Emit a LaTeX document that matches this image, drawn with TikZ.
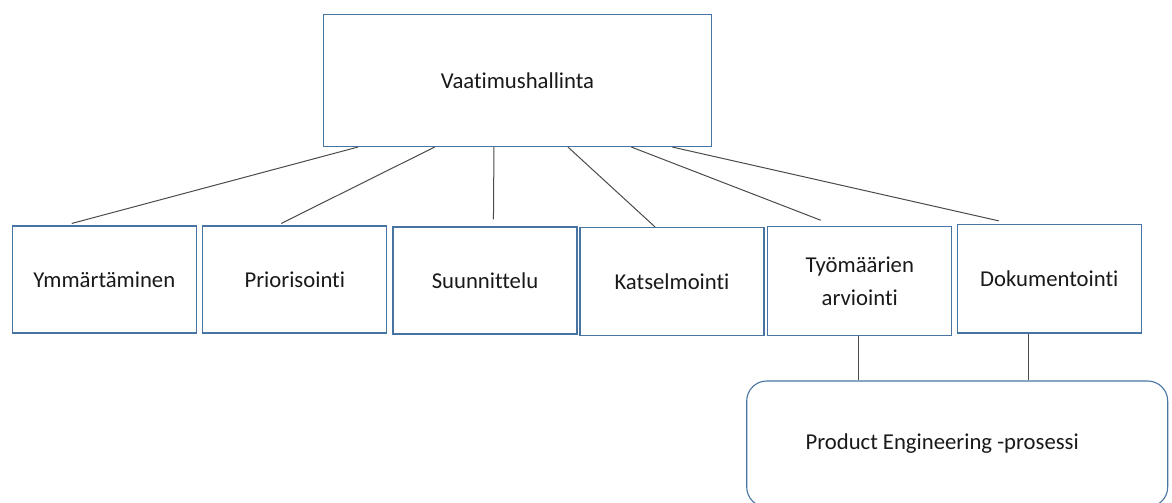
\documentclass[tikz,border=0pt]{standalone}
\usepackage{fontspec}
\setmainfont[Ligatures={NoCommon}]{Carlito}
\definecolor{boxblue}{RGB}{72,116,164}
\definecolor{linegray}{RGB}{75,75,75}
\definecolor{txt}{RGB}{25,25,25}
\begin{document}
\begin{tikzpicture}[x=1pt,y=-1pt,
  font=\fontsize{22.7}{33}\selectfont,
  stepbox/.style={draw=boxblue, line width=1.1pt, fill=white, text=txt, inner sep=0pt,
    minimum width=184pt, minimum height=108pt, align=center},
  topbox/.style={stepbox, minimum width=388pt, minimum height=132pt},
  pebox/.style={draw=boxblue, line width=1.1pt, rounded corners=20pt, text=txt, inner sep=0pt,
    minimum width=421pt, minimum height=126pt},
  conn/.style={draw=linegray, line width=1pt}]
\useasboundingbox[fill=white] (0,0) rectangle (1172,503);

\node[topbox] (top) at (517.5,80.5) {Vaatimushallinta};

\node[stepbox, minimum height=107pt] (ym) at (104.3,279.5) {Ymmärtäminen};
\node[stepbox, minimum height=107pt] (pr) at (294.8,279.5) {Priorisointi};
\node[stepbox, minimum height=107pt] (su) at (485,280.5) {Suunnittelu};
\node[stepbox] (ka) at (672,281.5) {Katselmointi};
\node[stepbox, minimum height=109pt] (ty) at (859.8,281.3) {Työmäärien\\arviointi};
\node[stepbox, minimum height=108.6pt] (do) at (1049.3,278.7) {Dokumentointi};

\node[pebox] (pe) at (957.2,444) {Product Engineering -prosessi\hspace*{30pt}};

\draw[conn] ([xshift=35pt]top.south west) -- ([xshift=60pt,yshift=2pt]ym.north west);
\draw[conn] ([xshift=111.7pt]top.south west) -- ([xshift=79pt,yshift=2pt]pr.north west);
\draw[conn] ([xshift=171pt]top.south west) -- ([xshift=101pt,yshift=7pt]su.north west);
\draw[conn] ([xshift=245pt]top.south west) -- ([xshift=75.6pt]ka.north west);
\draw[conn] ([xshift=308.4pt]top.south west) -- ([xshift=53.5pt,yshift=6pt]ty.north west);
\draw[conn] ([xshift=349.4pt]top.south west) -- ([xshift=42pt,yshift=3pt]do.north west);

\draw[conn] ([xshift=-1pt]ty.south) -- ([xshift=-1pt]ty.south |- pe.north);
\draw[conn] ([xshift=-20.8pt]do.south) -- ([xshift=-20.8pt]do.south |- pe.north);
\end{tikzpicture}
\end{document}
